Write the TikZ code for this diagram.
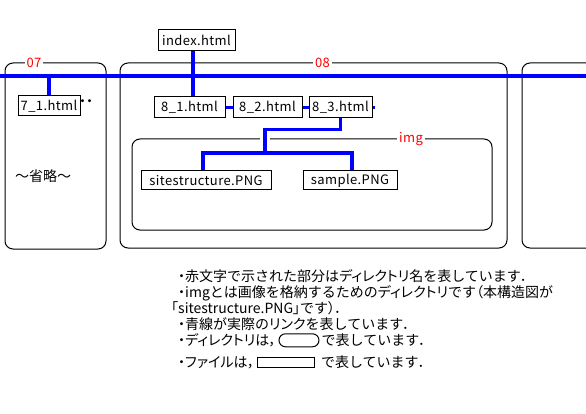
\documentclass[tikz,border=0pt]{standalone}
\usepackage{fontspec}
\setmainfont{Noto Sans CJK JP}
\newfontfamily\latinfont[LetterSpace=3.0]{Noto Sans CJK JP}
\newfontfamily\pfont[CharacterWidth=AlternateProportional]{Noto Sans CJK JP}
\usetikzlibrary{positioning}
\definecolor{linkblue}{RGB}{0,0,255}
\definecolor{labelred}{RGB}{255,0,0}
\tikzset{
  dirbox/.style={draw, rounded corners=8pt, line width=1pt, inner sep=0pt},
  dirlabel/.style={fill=white, text=labelred, inner xsep=2pt, inner ysep=0pt, font=\latinfont\fontsize{13}{13}\selectfont},
  filebox/.style={draw, line width=1pt, inner sep=0pt, minimum height=21pt, font=\latinfont\fontsize{13}{13}\selectfont},
  linkline/.style={draw=linkblue, line width=3.2pt},
  haloline/.style={preaction={draw=white, line width=10pt}},
  notetext/.style={anchor=base west, inner sep=0pt, font=\fontsize{14}{16}\selectfont},
  keybox/.style={draw, line width=1pt, inner sep=0pt}
}

\begin{document}
\begin{tikzpicture}[x=1pt, y=-1pt]
  \useasboundingbox (0,0) rectangle (586,414);
  \clip (0,0) rectangle (586,414);

  % directories
  \node[dirbox, minimum width=101pt, minimum height=186pt] (d07) at (55.5,156) {};
  \node[dirbox, minimum width=387pt, minimum height=185pt] (d08) at (313.5,155.5) {};
  \node[dirbox, minimum width=100pt, minimum height=185pt] (d09) at (572,155.5) {};
  \node[dirbox, minimum width=360pt, minimum height=91pt] (dimg) at (312,184.5) {};
  \node[dirlabel] (l07) at (34,63) {07};
  \node[dirlabel] (l08) at (322.5,63) {08};
  \node[dirlabel] (limg) at (411,139) {img};

  \coordinate (mainW) at (0,76);
  \coordinate (mainE) at (586,76);
  \draw[linkline] (mainW) -- (mainE);

  % files
  \node[filebox, minimum width=77pt] (idx) at (196.5,40.5) {index.html};
  \node[filebox, minimum width=62pt, minimum height=20pt] (p71) at (49,106) {7\_1.html};
  \node[inner sep=0pt, font=\pfont\fontsize{14}{14}\selectfont] (more) at (86,103) {・・};
  \node[filebox, minimum width=71pt] (p81) at (189.5,107.5) {8\_1.html};
  \node[filebox, minimum width=69pt] (p82) at (267.5,107.5) {8\_2.html};
  \node[filebox, minimum width=63pt] (p83) at (340.5,107.5) {8\_3.html};
  \node[filebox, minimum width=130pt, minimum height=19pt] (site) at (206,180.5) {sitestructure.PNG};
  \node[filebox, minimum width=94pt, minimum height=19pt] (sample) at (350,180.5) {sample.PNG};
  \node[inner sep=0pt, font=\fontsize{14}{14}\selectfont] (omit) at (43,176) {～省略～};

  % links
  \draw[linkline] ([xshift=-3.5pt]idx.south) -- ([xshift=3.5pt]p81.north);
  \draw[linkline] (p71.north |- mainW) -- (p71.north);
  \draw[linkline] (p81) -- (p82);
  \draw[linkline] (p82) -- (p83);
  \coordinate (p83out) at (375,107.5);
  \draw[linkline] (p83) -- (p83out);
  \coordinate (imgbus) at (265,153);
  \draw[linkline, haloline] (p83.south) -- ++(0,11) -| (imgbus);
  \draw[linkline] ([xshift=-3pt]site.north) |- (imgbus) -| ([xshift=2pt]sample.north);

  % notes
  \node[notetext] (n1) at (178,281) {{\pfont ・}赤文字で示された部分は{\pfont ディレクトリ}名を表しています{\pfont ．}};
  \node[notetext] (n2) at (178,297) {{\pfont ・}imgとは画像を格納するための{\pfont ディレクトリ}です{\pfont （}本構造図が};
  \node[notetext] (n3) at (171,313.5) {{\pfont 「}sitestructure.PNG{\pfont 」}です{\pfont ）．}};
  \node[notetext] (n4) at (178,329) {{\pfont ・}青線が実際の{\pfont リンク}を表しています{\pfont ．}};
  \node[notetext] (n5) at (178,345.5) {{\pfont ・ディレクトリ}は{\pfont ，}};
  \node[keybox, rounded corners=6.5pt, minimum width=40pt, minimum height=13pt, right=2pt of n5] (k5) {};
  \node[notetext, right=2pt of k5] (n5b) {で表しています{\pfont ．}};
  \node[notetext] (n6) at (178,367) {{\pfont ・ファイル}は{\pfont ，}};
  \node[keybox, minimum width=57pt, minimum height=10pt, right=2pt of n6] (k6) {};
  \node[notetext, right=6pt of k6] (n6b) {で表しています{\pfont ．}};
\end{tikzpicture}
\end{document}
